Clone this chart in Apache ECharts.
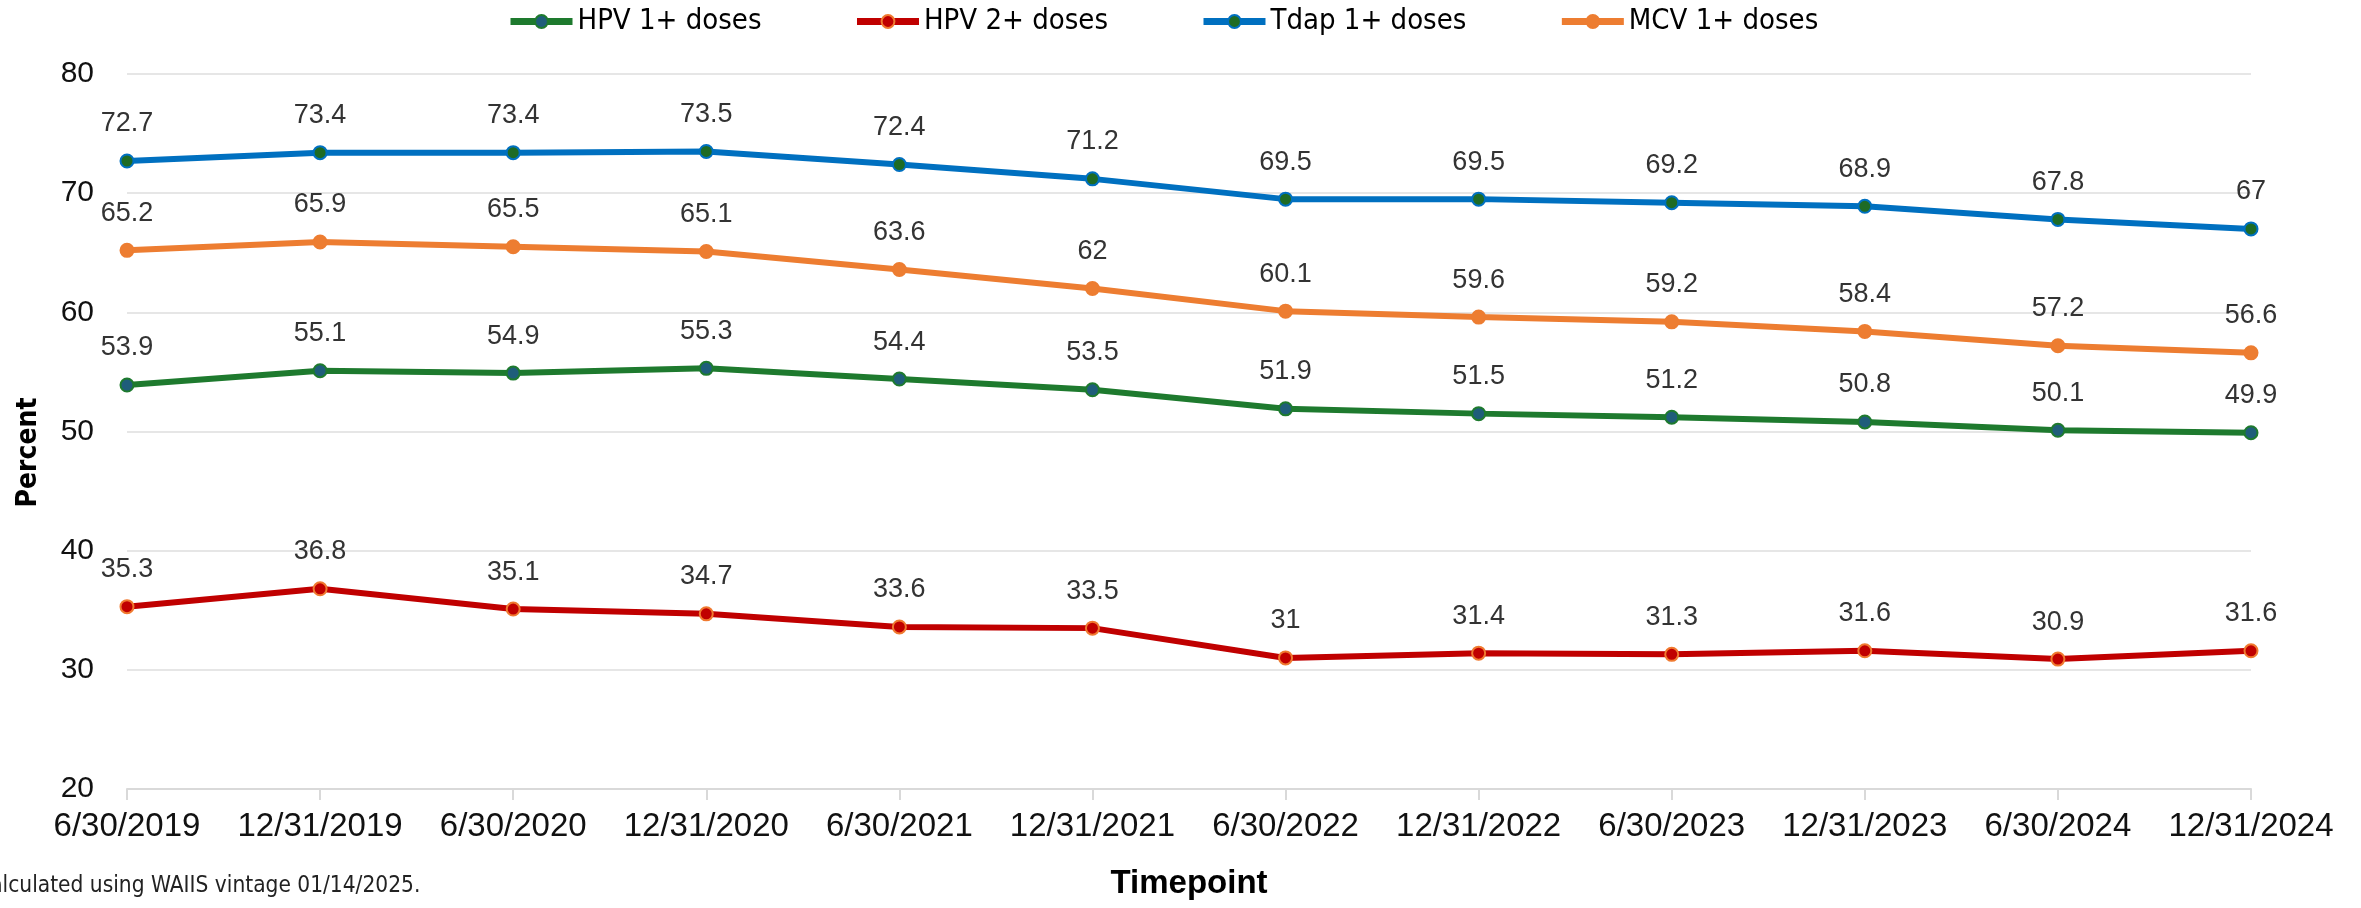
<!DOCTYPE html>
<html>
<head>
<meta charset="utf-8">
<script src="https://cdn.jsdelivr.net/npm/echarts@6/dist/echarts.min.js"></script>
<style>
html,body{margin:0;padding:0;background:#fff;}
#chart{width:2361px;height:908px;}
</style>
</head>
<body>
<div id="chart"></div>
<script>
const categories = ['6/30/2019','12/31/2019','6/30/2020','12/31/2020','6/30/2021','12/31/2021','6/30/2022','12/31/2022','6/30/2023','12/31/2023','6/30/2024','12/31/2024'];
const hpv1 = [53.9, 55.1, 54.9, 55.3, 54.4, 53.5, 51.9, 51.5, 51.2, 50.8, 50.1, 49.9];
const hpv2 = [35.3, 36.8, 35.1, 34.7, 33.6, 33.5, 31, 31.4, 31.3, 31.6, 30.9, 31.6];
const tdap = [72.7, 73.4, 73.4, 73.5, 72.4, 71.2, 69.5, 69.5, 69.2, 68.9, 67.8, 67];
const mcv  = [65.2, 65.9, 65.5, 65.1, 63.6, 62, 60.1, 59.6, 59.2, 58.4, 57.2, 56.6];
const seriesNames = ['HPV 1+ doses','HPV 2+ doses','Tdap 1+ doses','MCV 1+ doses'];
const yTicks = {min: 20, max: 80, interval: 10};
const footnote = 'Calculated using WAIIS vintage 01/14/2025.';

const narrow = "'Liberation Sans Narrow','DejaVu Sans Condensed','Noto Sans',sans-serif";
const sans = "'Liberation Sans',Arial,sans-serif";

function mk(name, data, lineColor, fill, border) {
  return {
    name: name, type: 'line', data: data,
    symbol: 'circle', symbolSize: 13,
    lineStyle: {color: lineColor, width: 6},
    itemStyle: {color: fill, borderColor: border, borderWidth: 2},
    label: {show: true, position: 'top', distance: 16, color: '#333333',
            fontFamily: sans, fontSize: 27},
    emphasis: {disabled: true},
    z: 3
  };
}

const chart = echarts.init(document.getElementById('chart'), null, {renderer: 'canvas'});
chart.setOption({
  backgroundColor: '#ffffff',
  animation: false,
  legend: {
    top: 2, left: 502,
    itemGap: 92, itemWidth: 62, itemHeight: 16,
    lineStyle: {width: 7},
    textStyle: {fontFamily: narrow, fontSize: 29, color: '#000'},
    data: seriesNames
  },
  grid: {left: 127, right: 110, top: 74, bottom: 119, containLabel: false},
  xAxis: {
    type: 'category', data: categories, boundaryGap: false,
    name: 'Timepoint', nameLocation: 'middle', nameGap: 78,
    nameTextStyle: {fontFamily: sans, fontWeight: 'bold', fontSize: 33, color: '#000'},
    axisLine: {lineStyle: {color: '#D9D9D9', width: 2}},
    axisTick: {show: true, length: 11, lineStyle: {color: '#D9D9D9', width: 2}},
    axisLabel: {fontFamily: sans, fontSize: 33, color: '#111', margin: 21, interval: 0},
    splitLine: {show: false}
  },
  yAxis: {
    type: 'value', min: yTicks.min, max: yTicks.max, interval: yTicks.interval,
    name: 'Percent', nameLocation: 'middle', nameRotate: 90, nameGap: 84,
    nameTextStyle: {fontFamily: narrow, fontWeight: 'bold', fontSize: 28, color: '#000', padding: [0, 42, 0, 0]},
    axisLine: {show: false}, axisTick: {show: false},
    axisLabel: {fontFamily: sans, fontSize: 30, color: '#111', margin: 33},
    splitLine: {lineStyle: {color: '#E6E6E6', width: 2}}
  },
  series: [
    mk(seriesNames[0], hpv1, '#1E7A2E', '#1F5D7A', '#1E7A2E'),
    mk(seriesNames[1], hpv2, '#C00000', '#C00000', '#F07A30'),
    mk(seriesNames[2], tdap, '#0070C0', '#1E6B24', '#0070C0'),
    mk(seriesNames[3], mcv,  '#ED7D31', '#ED7D31', '#ED7D31')
  ],
  graphic: [{
    type: 'text', left: -24, top: 875,
    style: {text: footnote, fontFamily: narrow, fontSize: 22.5, fill: '#222'}
  }]
});
</script>
</body>
</html>
